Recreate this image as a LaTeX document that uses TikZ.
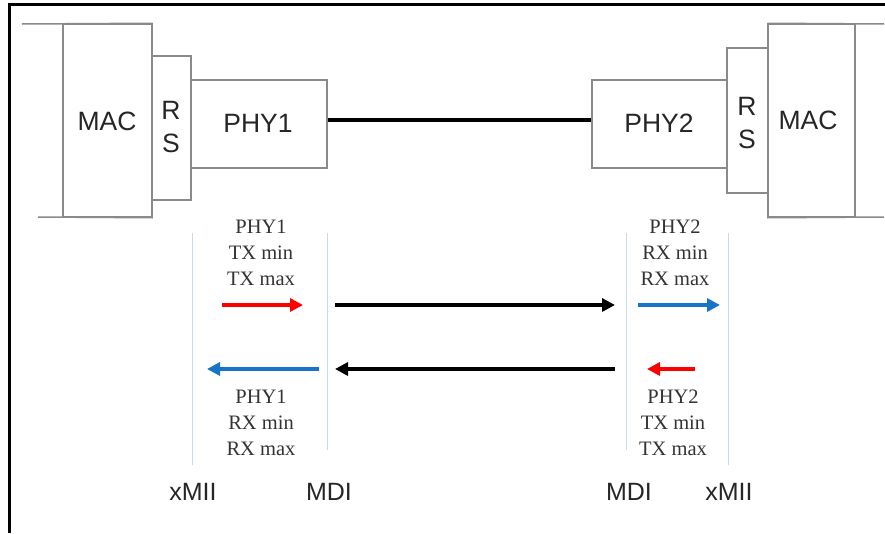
\documentclass[tikz,border=0pt]{standalone}
\usepackage{fontspec}
\setmainfont{Liberation Serif}
\setsansfont{Liberation Sans}
\usetikzlibrary{arrows.meta}
\definecolor{boxgray}{HTML}{8A8A8A}
\definecolor{guide}{HTML}{C3DEE6}
\definecolor{txred}{HTML}{FF0000}
\definecolor{rxblue}{HTML}{1874C8}
\tikzset{
  blk/.style={draw=boxgray,line width=1.5pt,inner sep=0pt,fill=white},
  boxtxt/.style={font=\sffamily\fontsize{26.5}{33}\selectfont,text=black!85,align=center},
  lbl/.style={font=\fontsize{20.5}{26}\selectfont,text=black!80,align=center},
  iface/.style={font=\sffamily\fontsize{25}{30}\selectfont,text=black!85},
  guideline/.style={draw=guide,line width=1pt},
  sig/.style={line width=3.6pt,-{Triangle[length=13pt,width=13pt]}},
  link/.style={line width=3.6pt},
  frame/.style={line width=3.5pt,black}
}
\begin{document}
\begin{tikzpicture}[x=1pt,y=-1pt]
\useasboundingbox (0,0) rectangle (885,533);
% frame (top and left only)
\draw[frame] (9.5,533) -- (9.5,4.5) -- (885,4.5);
% left side
\node[blk,minimum width=89pt,minimum height=193pt] (mac1) at (107.5,120.5) {};
\node[blk,minimum width=39pt,minimum height=144pt] (rs1) at (171.5,128) {};
\node[blk,minimum width=136pt,minimum height=88pt] (phy1) at (259,124) {};
\draw[draw=boxgray,line width=1.5pt] (mac1.north east) -- (22,24);
\draw[draw=boxgray,line width=1.5pt] (mac1.south east) -- (38,217);
\node[boxtxt] (mac1t) at (107,121) {MAC};
\node[boxtxt] (rs1t) at (171,127) {R\\S};
\node[boxtxt] (phy1t) at (258,123) {PHY1};
% right side
\node[blk,minimum width=87pt,minimum height=193pt] (mac2) at (811.5,120.5) {};
\node[blk,minimum width=41pt,minimum height=145pt] (rs2) at (747.5,120.5) {};
\node[blk,minimum width=135pt,minimum height=88pt] (phy2) at (659.5,124) {};
\draw[draw=boxgray,line width=1.5pt] (mac2.north west) -- (884,24);
\draw[draw=boxgray,line width=1.5pt] (mac2.south west) -- (884,217);
\node[boxtxt] (mac2t) at (808,120) {MAC};
\node[boxtxt] (rs2t) at (747,123) {R\\S};
\node[boxtxt] (phy2t) at (659,123) {PHY2};
% medium
\draw[link] ([yshift=4pt]phy1.east) -- ([yshift=4pt]phy2.west);
% guide lines
\coordinate (x1t) at (192,233); \coordinate (x1b) at (192,465);
\coordinate (m1t) at (327,233); \coordinate (m1b) at (327,450);
\coordinate (m2t) at (626,233); \coordinate (m2b) at (626,450);
\coordinate (x2t) at (728,233); \coordinate (x2b) at (728,465);
\draw[guideline] (x1t) -- (x1b);
\draw[guideline] (m1t) -- (m1b);
\draw[guideline] (m2t) -- (m2b);
\draw[guideline] (x2t) -- (x2b);
% labels
\node[lbl] (tx1) at (261,253) {PHY1\\TX min\\TX max};
\node[lbl] (rx1) at (261,423) {PHY1\\RX min\\RX max};
\node[lbl] (rx2) at (675,253) {PHY2\\RX min\\RX max};
\node[lbl] (tx2) at (673,423) {PHY2\\TX min\\TX max};
% arrows
\coordinate (a1s) at (222,305); \coordinate (a1e) at (303,305);
\coordinate (a2s) at (335,305); \coordinate (a2e) at (615,305);
\coordinate (a3s) at (638,305); \coordinate (a3e) at (720,305);
\coordinate (b1s) at (695,369); \coordinate (b1e) at (647,369);
\coordinate (b2s) at (615,369); \coordinate (b2e) at (335,369);
\coordinate (b3s) at (319,369); \coordinate (b3e) at (207,369);
\draw[sig,txred] (a1s) -- (a1e);
\draw[sig,black] (a2s) -- (a2e);
\draw[sig,rxblue] (a3s) -- (a3e);
\draw[sig,txred] (b1s) -- (b1e);
\draw[sig,black] (b2s) -- (b2e);
\draw[sig,rxblue] (b3s) -- (b3e);
% interface names
\node[iface] (xmii1) at (193,492) {xMII};
\node[iface] (mdi1) at (329,492) {MDI};
\node[iface] (mdi2) at (629,492) {MDI};
\node[iface] (xmii2) at (729,492) {xMII};
\end{tikzpicture}
\end{document}
